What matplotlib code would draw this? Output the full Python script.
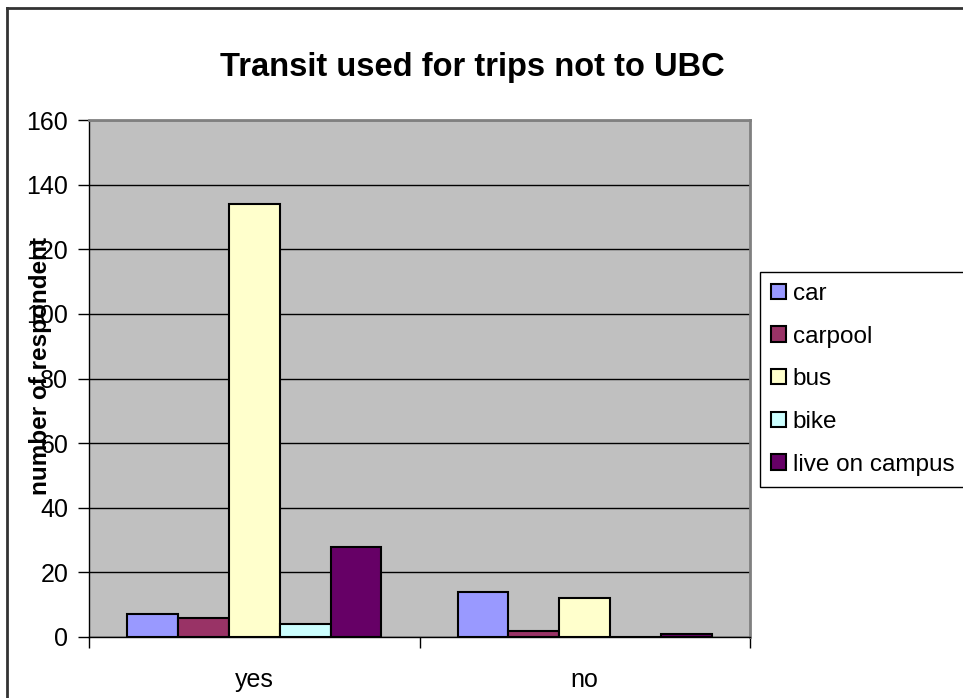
import matplotlib
matplotlib.use("Agg")
import matplotlib.pyplot as plt
from matplotlib.lines import Line2D
from matplotlib.transforms import Bbox
import numpy as np

plt.rcParams['font.family'] = ['Liberation Sans', 'DejaVu Sans']

categories = ["yes", "no"]
modes = ["car", "carpool", "bus", "bike", "live on campus"]
car = [7, 14]
carpool = [6, 2]
bus = [134, 12]
bike = [4, 0]
live_on_campus = [28, 1]
series = [car, carpool, bus, bike, live_on_campus]
colors = ["#9999FF", "#993366", "#FFFFCC", "#CCFFFF", "#660066"]

W, H = 963, 698
fig = plt.figure(figsize=(W / 100, H / 100), dpi=100)
ax = fig.add_axes([89 / W, 1 - 637 / H, (750 - 89) / W, (637 - 120) / H])
ax.set_facecolor("#C0C0C0")

x = np.arange(len(categories))
w = 1 / 6.5
for i, (vals, c, lab) in enumerate(zip(series, colors, modes)):
    ax.bar(x + (i - 2) * w, vals, width=w, color=c, edgecolor="black",
           linewidth=1.5, label=lab, zorder=3)

ax.set_xlim(-0.5, 1.5)
ax.set_ylim(0, 160)
ax.set_yticks(range(0, 161, 20))
ax.yaxis.grid(True, color="black", linewidth=1, zorder=1)
ax.set_axisbelow(True)
ax.tick_params(axis="y", direction="out", length=8, width=1, pad=7,
               labelsize=18, colors="black")

ax.set_xticks(x)
ax.set_xticklabels(categories)
ax.set_xticks([-0.5, 0.5, 1.5], minor=True)
ax.tick_params(axis="x", which="major", length=0, pad=22, labelsize=18)
ax.tick_params(axis="x", which="minor", direction="out", length=8, width=1)

for s in ["top", "right"]:
    ax.spines[s].set_color("#808080")
    ax.spines[s].set_linewidth(2)
for s in ["left", "bottom"]:
    ax.spines[s].set_color("black")
    ax.spines[s].set_linewidth(1)

fig.text(472 / W, 1 - 76 / H, "Transit used for trips not to UBC",
         ha="center", va="baseline", fontsize=23.5, fontweight="bold")

# axis title overlaps the tick labels and is cut off at the top, as in the source
yl = fig.text(41 / W, 1 - 495 / H, "number of respondents", rotation=90,
              ha="center", va="bottom", fontsize=17.5, fontweight="bold",
              clip_on=True)
yl.set_clip_box(Bbox.from_extents(0, 0, W, H - 238))

leg = ax.legend(loc="upper left", bbox_to_anchor=(760 / W, 1 - 272 / H),
                bbox_transform=fig.transFigure, fontsize=17.5, frameon=True,
                fancybox=False, edgecolor="black", framealpha=1,
                handlelength=0.6, handleheight=0.6, handletextpad=0.3,
                labelspacing=0.85, borderpad=0.45, borderaxespad=0)
leg.get_frame().set_linewidth(1)

# outer chart border (right/bottom edges fall off the canvas)
fig.add_artist(Line2D([7 / W, 7 / W], [-0.1, 1 - 8 / H], transform=fig.transFigure,
                      color="#333333", linewidth=2))
fig.add_artist(Line2D([7 / W, 1.1], [1 - 8 / H, 1 - 8 / H], transform=fig.transFigure,
                      color="#333333", linewidth=2))

fig.savefig("out.png", dpi=100)
